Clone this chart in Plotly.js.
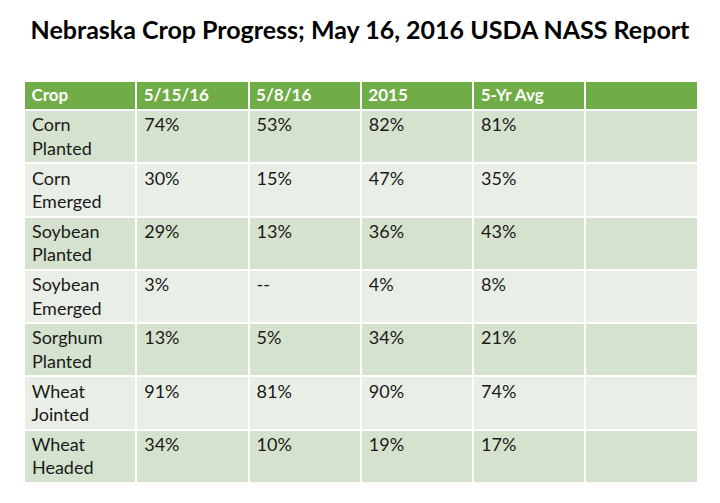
<!DOCTYPE html>
<html><head><meta charset="utf-8">
<script src="https://cdn.plot.ly/plotly-3.0.1.min.js"></script>
<style>
html,body{margin:0;padding:0;background:#fff;overflow:hidden;width:720px;height:503px}
#chart{transform-origin:0 0}
</style>
</head><body><div id="chart"></div>
<script>
const headers = ["Crop", "5/15/16", "5/8/16", "2015", "5-Yr Avg", ""];
const crops = ["Corn<br>Planted", "Corn<br>Emerged", "Soybean<br>Planted", "Soybean<br>Emerged", "Sorghum<br>Planted", "Wheat<br>Jointed", "Wheat<br>Headed"];
const week_5_15_16 = ["74%", "30%", "29%", "3%", "13%", "91%", "34%"];
const week_5_8_16 = ["53%", "15%", "13%", "--", "5%", "81%", "10%"];
const year_2015 = ["82%", "47%", "36%", "4%", "34%", "90%", "19%"];
const avg_5yr = ["81%", "35%", "43%", "8%", "21%", "74%", "17%"];
const blank = ["", "", "", "", "", "", ""];

// render at a larger internal scale, then shrink after drawing, so that Plotly's fixed cell padding is proportionally smaller
const K = 2.4;
const W = 720, H = 503;
const el = document.getElementById("chart");
el.style.width = (W * K) + "px";
el.style.height = (H * K) + "px";

// indent every line slightly and lay every cell out as two lines, like the reference
const indent = s => s.split("<br>").map(t => "\u00A0" + t).join("<br>");
const twoLines = s => s.indexOf("<br>") >= 0 ? indent(s) : indent(s) + "<br>\u00A0";

const rowColors = crops.map((c, i) => i % 2 === 0 ? "#D5E3CE" : "#E9EFE6");
const FONT = "Lato, Open Sans, sans-serif";

const trace = {
  type: "table",
  columnwidth: [1, 1, 1, 1, 1, 1],
  domain: {x: [24 / W, 698 / W], y: [0, 1 - 81 / H]},
  header: {
    values: headers.map(h => "<b>" + indent(h) + "</b>"),
    align: "left",
    height: 29 * K,
    fill: {color: "#70AD47"},
    line: {color: "#ffffff", width: 2 * K},
    font: {family: FONT, size: 17 * K, color: "#ffffff"}
  },
  cells: {
    values: [crops, week_5_15_16, week_5_8_16, year_2015, avg_5yr, blank].map(col => col.map(twoLines)),
    align: "left",
    height: 53.3 * K,
    fill: {color: [rowColors, rowColors, rowColors, rowColors, rowColors, rowColors]},
    line: {color: "#ffffff", width: 2 * K},
    font: {family: FONT, size: 18 * K, color: "#1a1a1a"}
  }
};

const layout = {
  width: W * K, height: H * K,
  margin: {l: 0, r: 0, t: 0, b: 0},
  paper_bgcolor: "#ffffff",
  title: {
    text: "<b>Nebraska Crop Progress; May 16, 2016 USDA NASS Report</b>",
    x: 0.5, xanchor: "center", y: 1 - 30 / H, yanchor: "middle",
    font: {family: FONT, size: 25 * K, color: "#000000"}
  }
};

Plotly.newPlot("chart", [trace], layout, {displayModeBar: false, staticPlot: true}).then(function () {
  el.style.transform = "scale(" + (1 / K) + ")";
});
</script></body></html>
